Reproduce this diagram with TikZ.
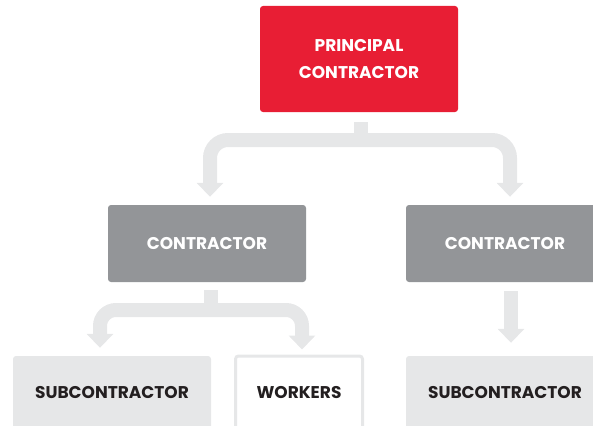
\documentclass[tikz,border=0pt]{standalone}
\usepackage{fontspec}
\setmainfont{Poppins}
\usepackage{tikz}
\usepackage{xcolor}
\usetikzlibrary{arrows.meta, positioning, calc}
\definecolor{principalRed}{RGB}{232, 30, 52}
\definecolor{contractorGray}{RGB}{147, 149, 152}
\definecolor{paleGray}{RGB}{230, 231, 232}
\definecolor{labelBlack}{RGB}{35, 31, 32}

\begin{document}
\begin{tikzpicture}[x=1pt, y=-1pt,
    box/.style={rectangle, rounded corners=3pt, minimum width=198pt, align=center,
        font=\fontsize{17}{27}\selectfont\bfseries},
    redbox/.style={box, fill=principalRed, text=white, minimum height=106pt},
    graybox/.style={box, fill=contractorGray, text=white, minimum height=77pt},
    palebox/.style={box, fill=paleGray, text=labelBlack, minimum height=74pt},
    openbox/.style={box, draw=paleGray, line width=3pt, fill=white, text=labelBlack,
        minimum width=127pt, minimum height=74pt},
    flow/.style={draw=paleGray, line width=14pt,
        -{Triangle[width=26pt, length=14pt]}},
    stem/.style={draw=paleGray, line width=14pt}]
\useasboundingbox (0,0) rectangle (593,425);

% top level
\node[redbox] (principal) at (359,59) {PRINCIPAL\\CONTRACTOR};

% second level
\node[graybox] (contractorL) at (207,243.5) {CONTRACTOR};
\node[graybox] (contractorR) at (505,243.5) {CONTRACTOR};

% third level
\node[palebox] (subL) at (112,393) {SUBCONTRACTOR};
\node[openbox] (workers) at (299,393) {WORKERS};
\node[palebox] (subR) at (505,393) {SUBCONTRACTOR};

% connectors
\coordinate (splitA) at (361,140);
\draw[stem] ([xshift=2pt,yshift=-10pt]principal.south) -- (splitA);
\draw[flow, rounded corners=18pt] (splitA) -| ([xshift=3pt,yshift=8pt]contractorL.north);
\draw[flow, rounded corners=18pt] (splitA) -| ([xshift=5pt,yshift=8pt]contractorR.north);

\coordinate (splitB) at (211,310);
\draw[stem] ([xshift=4pt,yshift=-8pt]contractorL.south) -- (splitB);
\draw[flow, rounded corners=16pt] (splitB) -| ([xshift=-12pt,yshift=8pt]subL.north);
\draw[flow, rounded corners=16pt] (splitB) -| ([xshift=3pt,yshift=5pt]workers.north);

\draw[flow] ([xshift=6pt,yshift=-9pt]contractorR.south) -- ([xshift=6pt,yshift=13pt]subR.north);
\end{tikzpicture}
\end{document}
